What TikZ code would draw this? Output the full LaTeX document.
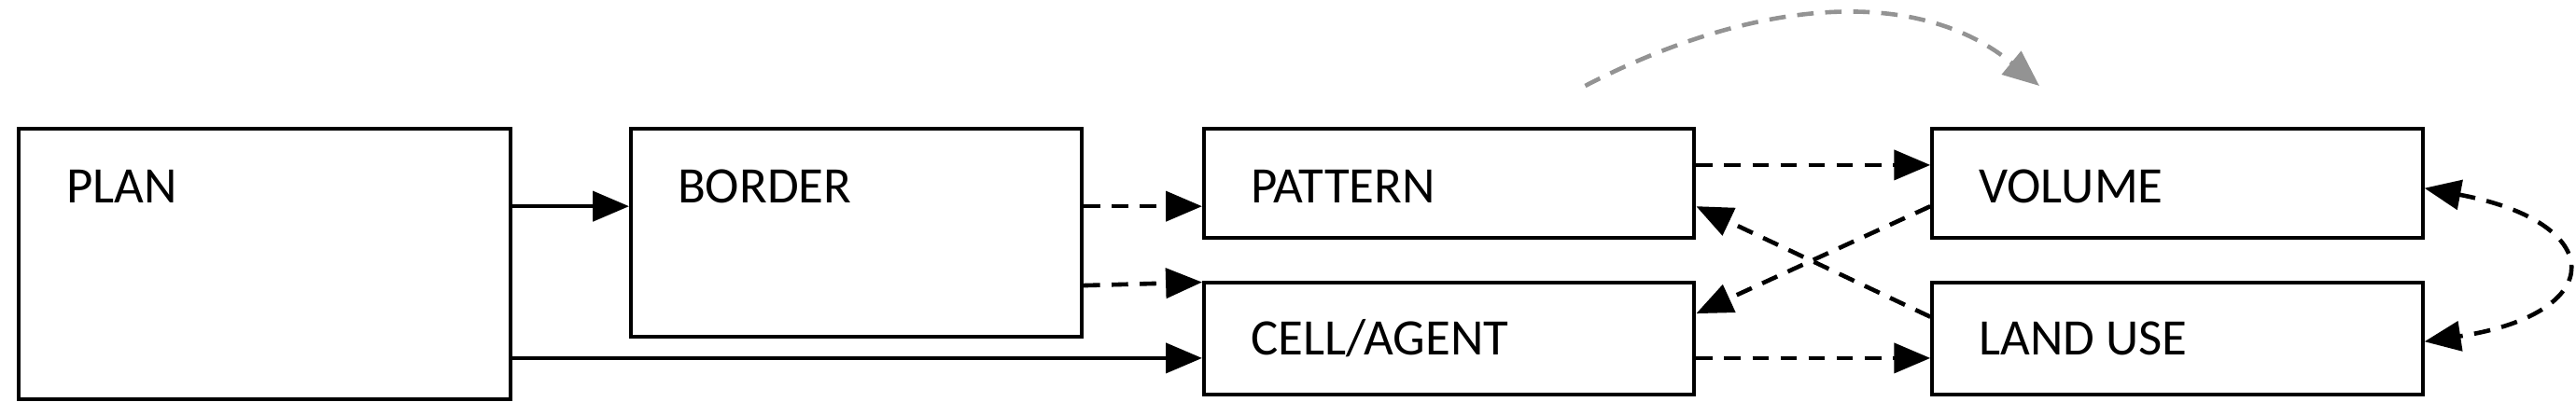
\documentclass[tikz,border=0pt]{standalone}
\usepackage{fontspec}
\setmainfont{Carlito}
\usetikzlibrary{arrows.meta}
\begin{document}
\begin{tikzpicture}[x=0.5pt,y=-0.5pt,
  box/.style={draw,line width=1.1pt,anchor=north west,inner sep=0pt},
  txt/.style={anchor=base west,inner sep=0pt,font=\fontsize{15.5}{18}\selectfont},
  arr/.style={line width=1.3pt,-{Triangle[length=11pt,width=9pt]}},
  dsh/.style={arr,dash pattern=on 5pt off 3.5pt},
  gry/.style={dsh,draw=gray!85,-{Triangle[length=11pt,width=9pt,fill=gray!85]}}]
\useasboundingbox (0,0) rectangle (1560,252);
\node[box,minimum width=149pt,minimum height=82pt] (plan) at (10,77) {};
\node[box,minimum width=136.5pt,minimum height=63pt] (border) at (381,77) {};
\node[box,minimum width=148.5pt,minimum height=33pt] (pattern) at (728,77) {};
\node[box,minimum width=148.5pt,minimum height=34pt] (cell) at (728,170) {};
\node[box,minimum width=148.5pt,minimum height=33pt] (volume) at (1169,77) {};
\node[box,minimum width=148.5pt,minimum height=34pt] (land) at (1169,170) {};
\node[txt] (tplan) at (40,123) {PLAN};
\node[txt] (tborder) at (410,123) {BORDER};
\node[txt] (tpattern) at (757,123) {PATTERN};
\node[txt] (tcell) at (757,215) {CELL/AGENT};
\node[txt] (tvolume) at (1198,123) {VOLUME};
\node[txt] (tland) at (1198,215) {LAND USE};
\coordinate (gs) at (960,52);
\coordinate (ge) at (1235,52);
\draw[arr] (plan.east |- 0,125) -- (border.west |- 0,125);
\draw[arr] (plan.east |- 0,217) -- (cell.west |- 0,217);
\draw[dsh] (border.east |- 0,125) -- (pattern.west |- 0,125);
\draw[dsh] (border.east |- 0,173) -- (cell.west |- 0,171);
\draw[dsh] (pattern.east |- 0,100) -- (volume.west |- 0,100);
\draw[dsh] (cell.east |- 0,217) -- (land.west |- 0,217);
\draw[dsh] (volume.west |- 0,125) -- (cell.east |- 0,190);
\draw[dsh] (land.west |- 0,192) -- (pattern.east |- 0,125);
\draw[dsh,{Triangle[length=11pt,width=9pt]}-{Triangle[length=11pt,width=9pt]}] (volume.east |- 0,114) .. controls (1580,135) and (1580,190) .. (land.east |- 0,207);
\draw[gry] (gs) .. controls (1060,0) and (1160,-10) .. (ge);
\end{tikzpicture}
\end{document}
